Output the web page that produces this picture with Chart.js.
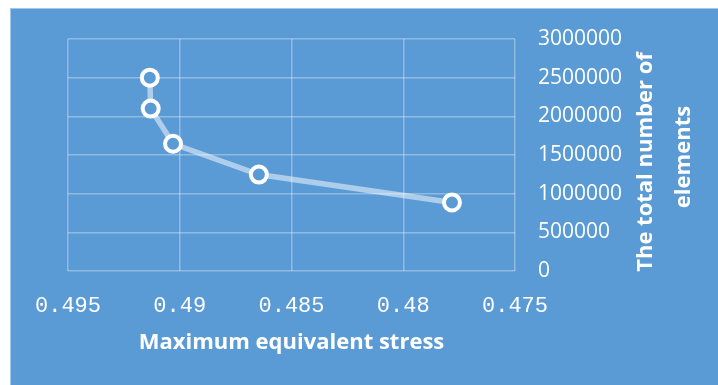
<!DOCTYPE html>
<html>
<head>
<meta charset="utf-8">
<script src="https://cdn.jsdelivr.net/npm/chart.js@4"></script>
<style>
  body { margin: 0; background: #ffffff; }
  .panel {
    position: absolute;
    left: 10px;
    top: 8px;
    width: 708px;
    height: 377px;
    background: #5b9bd5;
    box-sizing: border-box;
    border-top: 1px solid #a3c6e9;
    border-left: 1px solid #a3c6e9;
  }
  canvas { position: absolute; left: -1px; top: -1px; }
</style>
</head>
<body>
<div class="panel">
  <canvas id="chart" width="708" height="377"></canvas>
</div>
<script>
// values
const stress = [0.49134, 0.4913, 0.4903, 0.48646, 0.47782];
const elements = [2500000, 2100000, 1645000, 1247000, 887000];
const xTicks = [0.495, 0.49, 0.485, 0.48, 0.475];
const yTicks = [0, 500000, 1000000, 1500000, 2000000, 2500000, 3000000];
const xTitle = "Maximum equivalent stress";
const yTitle = ["The total number of", "elements"];

const blue = "#5b9bd5";
const grid = "rgba(255,255,255,0.32)";

// axis titles drawn by hand (y title reads bottom to top, two lines)
const titles = {
  id: "titles",
  afterDraw(chart) {
    const ctx = chart.ctx;
    const area = chart.chartArea;
    ctx.save();
    ctx.fillStyle = "#ffffff";
    ctx.font = "bold 22px 'Open Sans'";
    ctx.textAlign = "center";
    ctx.textBaseline = "middle";
    ctx.fillText(xTitle, (area.left + area.right) / 2, 335);

    ctx.textBaseline = "alphabetic";
    ctx.translate(642, 150);
    ctx.rotate(-Math.PI / 2);
    ctx.fillText(yTitle[0], -4, 0);
    ctx.fillText(yTitle[1], 1, 38);
    ctx.restore();
  }
};

new Chart(document.getElementById("chart"), {
  type: "scatter",
  data: {
    datasets: [{
      data: stress.map((s, i) => ({ x: s, y: elements[i] })),
      showLine: true,
      borderColor: "rgba(255,255,255,0.5)",
      borderWidth: 5.5,
      pointRadius: 8,
      pointHoverRadius: 8,
      pointBorderWidth: 4,
      pointBorderColor: "#ffffff",
      pointBackgroundColor: blue,
    }]
  },
  options: {
    responsive: false,
    animation: false,
    layout: { padding: { left: 58, top: 31, right: 0, bottom: 0 } },
    plugins: {
      legend: { display: false },
      tooltip: { enabled: false },
    },
    scales: {
      x: {
        type: "linear",
        reverse: true,
        min: 0.475,
        max: 0.495,
        afterBuildTicks: (scale) => { scale.ticks = xTicks.map((v) => ({ value: v })); },
        afterFit: (scale) => { scale.height = 377 - 263; },
        grid: { color: grid, lineWidth: 1.5, drawTicks: false },
        border: { display: false },
        ticks: {
          color: "#ffffff",
          padding: 22,
          font: { family: "'Liberation Mono'", size: 22 },
          callback: (v) => String(+v.toFixed(3)),
        },
      },
      y: {
        position: "right",
        min: 0,
        max: 3000000,
        afterBuildTicks: (scale) => { scale.ticks = yTicks.map((v) => ({ value: v })); },
        afterFit: (scale) => {
          scale.width = 708 - 505;
          scale.paddingTop = 12;
          scale.paddingBottom = 12;
        },
        grid: { color: grid, lineWidth: 1.5, drawTicks: false },
        border: { display: false },
        ticks: {
          color: "#ffffff",
          padding: 23,
          font: { family: "'Open Sans'", size: 21 },
          callback: (v) => String(v),
        },
      },
    },
  },
  plugins: [titles],
});
</script>
</body>
</html>
